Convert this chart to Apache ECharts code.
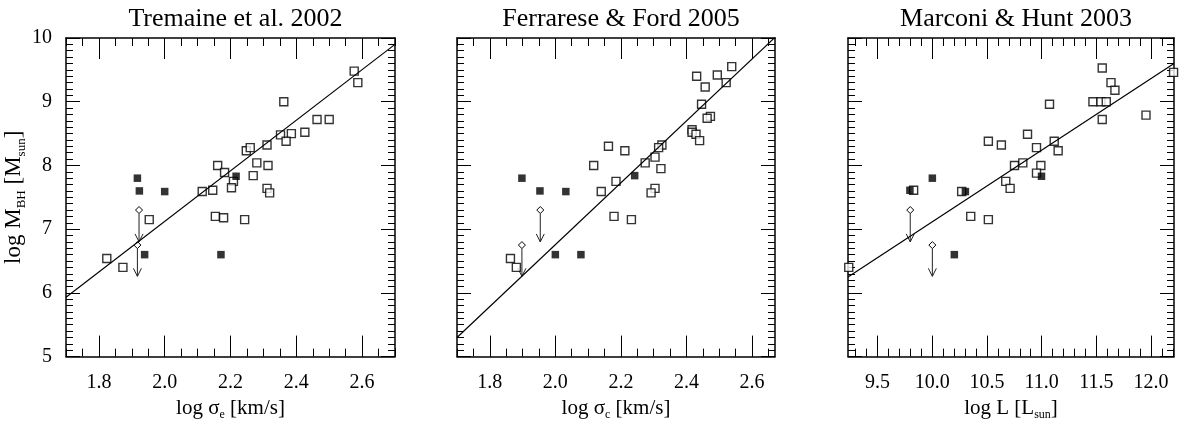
<!DOCTYPE html>
<html>
<head>
<meta charset="utf-8">
<script src="https://cdn.jsdelivr.net/npm/echarts@6/dist/echarts.min.js"></script>
<style>html,body{margin:0;background:#fff}#main{width:1186px;height:426px}</style>
</head>
<body>
<div id="main"></div>
<script>
// Tremaine et al. 2002 : [log sigma_e, log M_BH]
const t02Open = [[2.576,9.48],[2.587,9.30],[2.362,9.00],[2.463,8.72],[2.500,8.72],[2.426,8.52],[2.352,8.48],[2.385,8.50],
  [2.369,8.38],[2.311,8.32],[2.248,8.23],[2.260,8.28],[2.280,8.04],[2.314,8.00],[2.161,8.00],[2.182,7.89],[2.269,7.84],
  [2.209,7.75],[2.203,7.65],[2.146,7.61],[2.114,7.59],[2.311,7.64],[2.319,7.57],[2.154,7.20],[2.179,7.18],[2.243,7.15],
  [1.953,7.15],[1.824,6.54],[1.873,6.40]]
const t02Filled = [[1.917,7.80],[1.923,7.60],[2.000,7.59],[2.217,7.83],[1.939,6.60],[2.171,6.60]]
const t02Limits = [[1.922,7.30,6.80],[1.917,6.75,6.26]]   // x, upper limit, arrow tip
const t02Fit = [[1.70,5.93],[2.70,9.90]]

// Ferrarese & Ford 2005 : [log sigma_c, log M_BH]
const ff05Open = [[2.538,9.55],[2.494,9.42],[2.431,9.40],[2.521,9.30],[2.457,9.23],[2.446,8.96],[2.473,8.77],[2.463,8.74],
  [2.417,8.56],[2.417,8.52],[2.429,8.49],[2.440,8.39],[2.325,8.32],[2.315,8.28],[2.304,8.13],[2.274,8.04],[2.322,7.95],
  [2.162,8.30],[2.212,8.23],[2.117,8.00],[2.185,7.75],[2.140,7.59],[2.304,7.64],[2.292,7.57],[2.179,7.20],[2.232,7.15],
  [1.863,6.54],[1.881,6.40]]
const ff05Filled = [[1.898,7.80],[1.953,7.60],[2.032,7.59],[2.242,7.84],[2.000,6.60],[2.078,6.60]]
const ff05Limits = [[1.954,7.30,6.80],[1.898,6.75,6.26]]
const ff05Fit = [[1.70,5.30],[2.67,10.01]]

// Marconi & Hunt 2003 : [log L, log M_BH]
const mh03Open = [[11.554,9.53],[11.634,9.30],[11.670,9.18],[11.469,9.00],[11.542,9.00],[11.591,9.00],[11.554,8.72],
  [11.954,8.79],[12.206,9.46],[11.072,8.96],[10.871,8.49],[10.513,8.38],[10.632,8.32],[10.953,8.28],[11.115,8.38],
  [11.151,8.23],[10.752,8.00],[10.828,8.04],[10.993,8.00],[10.953,7.88],[10.672,7.75],[10.712,7.64],[9.830,7.61],
  [10.269,7.59],[10.352,7.20],[10.513,7.15],[9.237,6.40]]
const mh03Filled = [[9.796,7.61],[10.001,7.80],[10.303,7.59],[10.999,7.83],[10.202,6.60]]
const mh03Limits = [[9.799,7.30,6.80],[10.001,6.75,6.26]]
const mh03Fit = [[9.23,6.25],[12.21,9.60]]

const titles = ['Tremaine et al. 2002', 'Ferrarese & Ford 2005', 'Marconi & Hunt 2003']
const xRanges = [[1.7,2.7],[1.7,2.67],[9.23,12.21]]
const xMajor = [[1.8,2.0,2.2,2.4,2.6],[1.8,2.0,2.2,2.4,2.6],[9.5,10.0,10.5,11.0,11.5,12.0]]
const xMinorStep = [0.05,0.05,0.1]
const xNames = ['{a|log σ}{s|e}{a| [km/s]}', '{a|log σ}{s|c}{a| [km/s]}', '{a|log L [L}{s|sun}{a|]}']
const yName = '{a|log M}{s|BH}{a| [M}{s|sun}{a|]}'

const panels = [
  {open:t02Open, filled:t02Filled, limits:t02Limits, fit:t02Fit},
  {open:ff05Open, filled:ff05Filled, limits:ff05Limits, fit:ff05Fit},
  {open:mh03Open, filled:mh03Filled, limits:mh03Limits, fit:mh03Fit}
]
const grids = [
  {left:66, top:38, width:329, height:328},
  {left:457, top:38, width:318, height:328},
  {left:848, top:38, width:326, height:328}
]

const serif = '"Liberation Serif", "Times New Roman", serif'
const xrich = {
  a: {fontFamily:serif, fontSize:21, color:'#000', lineHeight:26},
  s: {fontFamily:serif, fontSize:12, color:'#000', lineHeight:12, verticalAlign:'bottom'}
}
const yrich = {
  a: {fontFamily:serif, fontSize:23, color:'#000', lineHeight:28},
  s: {fontFamily:serif, fontSize:13, color:'#000', lineHeight:13, verticalAlign:'bottom'}
}

function minorTicks(range, step) {
  var out = []
  for(let k = Math.ceil(range[0]/step - 1e-6); k*step <= range[1] + 1e-9; k++) out.push(Math.round(k*step*1000)/1000)
  return out
}

function renderLimit(params, api) {
  const top = api.coord([api.value(0), api.value(1)])
  const tip = api.coord([api.value(0), api.value(2)])
  const d = 3.5
  return { type:'group', children:[
    { type:'line', shape:{x1:top[0], y1:top[1]+d, x2:tip[0], y2:tip[1]}, style:{stroke:'#222', lineWidth:1} },
    { type:'polyline', shape:{points:[[tip[0]-4,tip[1]-8],[tip[0],tip[1]],[tip[0]+4,tip[1]-8]]}, style:{stroke:'#222', fill:null, lineWidth:1} },
    { type:'polygon', shape:{points:[[top[0],top[1]-d],[top[0]+d,top[1]],[top[0],top[1]+d],[top[0]-d,top[1]]]}, style:{fill:'#fff', stroke:'#000', lineWidth:1} }
  ]}
}

var option = {
  animation: false,
  backgroundColor: '#fff',
  textStyle: { fontFamily: serif },
  title: [],
  grid: grids,
  xAxis: [], yAxis: [], series: []
}

const frame = { onZero:false, lineStyle:{color:'#000', width:1.5} }
const tickStyle = { color:'#000', width:1 }

panels.forEach((p, i) => {
  const range = xRanges[i]
  const minor = minorTicks(range, xMinorStep[i])
  option.title.push({
    text: titles[i], left: grids[i].left + grids[i].width/2, top: 1, textAlign: 'center',
    textStyle: { fontFamily: serif, fontSize: 26, fontWeight: 'normal', color: '#000' }
  })
  const base = { gridIndex:i, type:'value', min:range[0], max:range[1], splitLine:{show:false}, axisLine:frame }
  option.xAxis.push({ ...base, position:'bottom',
    axisTick:{inside:true, length:21, customValues:xMajor[i], lineStyle:tickStyle},
    axisLabel:{customValues:xMajor[i], formatter:v => v.toFixed(1), color:'#000', fontSize:20, fontFamily:serif, margin:16},
    name:xNames[i], nameLocation:'middle', nameGap:34, nameTextStyle:{rich:xrich} })
  option.xAxis.push({ ...base, position:'top',
    axisTick:{inside:true, length:21, customValues:xMajor[i], lineStyle:tickStyle}, axisLabel:{show:false} })
  option.xAxis.push({ ...base, position:'bottom', axisLine:{show:false},
    axisTick:{inside:true, length:8, customValues:minor, lineStyle:tickStyle}, axisLabel:{show:false} })
  option.xAxis.push({ ...base, position:'top', axisLine:{show:false},
    axisTick:{inside:true, length:8, customValues:minor, lineStyle:tickStyle}, axisLabel:{show:false} })
  const ybase = { gridIndex:i, type:'value', min:5, max:10, interval:1, splitLine:{show:false}, axisLine:frame,
    axisTick:{inside:true, length:14, lineStyle:tickStyle},
    minorTick:{show:true, splitNumber:10, length:7, lineStyle:tickStyle}, minorSplitLine:{show:false} }
  option.yAxis.push({ ...ybase, position:'left',
    axisLabel:{show:i == 0, color:'#000', fontSize:20, fontFamily:serif, margin:14},
    name: i == 0 ? yName : '', nameLocation:'middle', nameGap:33, nameRotate:90, nameTextStyle:{rich:yrich} })
  option.yAxis.push({ ...ybase, position:'right', axisLabel:{show:false} })

  const ax = { xAxisIndex:i*4, yAxisIndex:i*2 }
  option.series.push({ ...ax, type:'line', data:p.fit, showSymbol:false, clip:true, silent:true,
    lineStyle:{color:'#000', width:1.2} })
  option.series.push({ ...ax, type:'scatter', data:p.open, symbol:'rect', symbolSize:8,
    itemStyle:{color:'#fff', borderColor:'#000', borderWidth:1.4} })
  option.series.push({ ...ax, type:'scatter', data:p.filled, symbol:'rect', symbolSize:7.5,
    itemStyle:{color:'#000'} })
  option.series.push({ ...ax, type:'custom', data:p.limits, renderItem:renderLimit, encode:{x:0, y:[1,2]} })
})

const chart = echarts.init(document.getElementById('main'))
chart.setOption(option)
</script>
</body>
</html>
